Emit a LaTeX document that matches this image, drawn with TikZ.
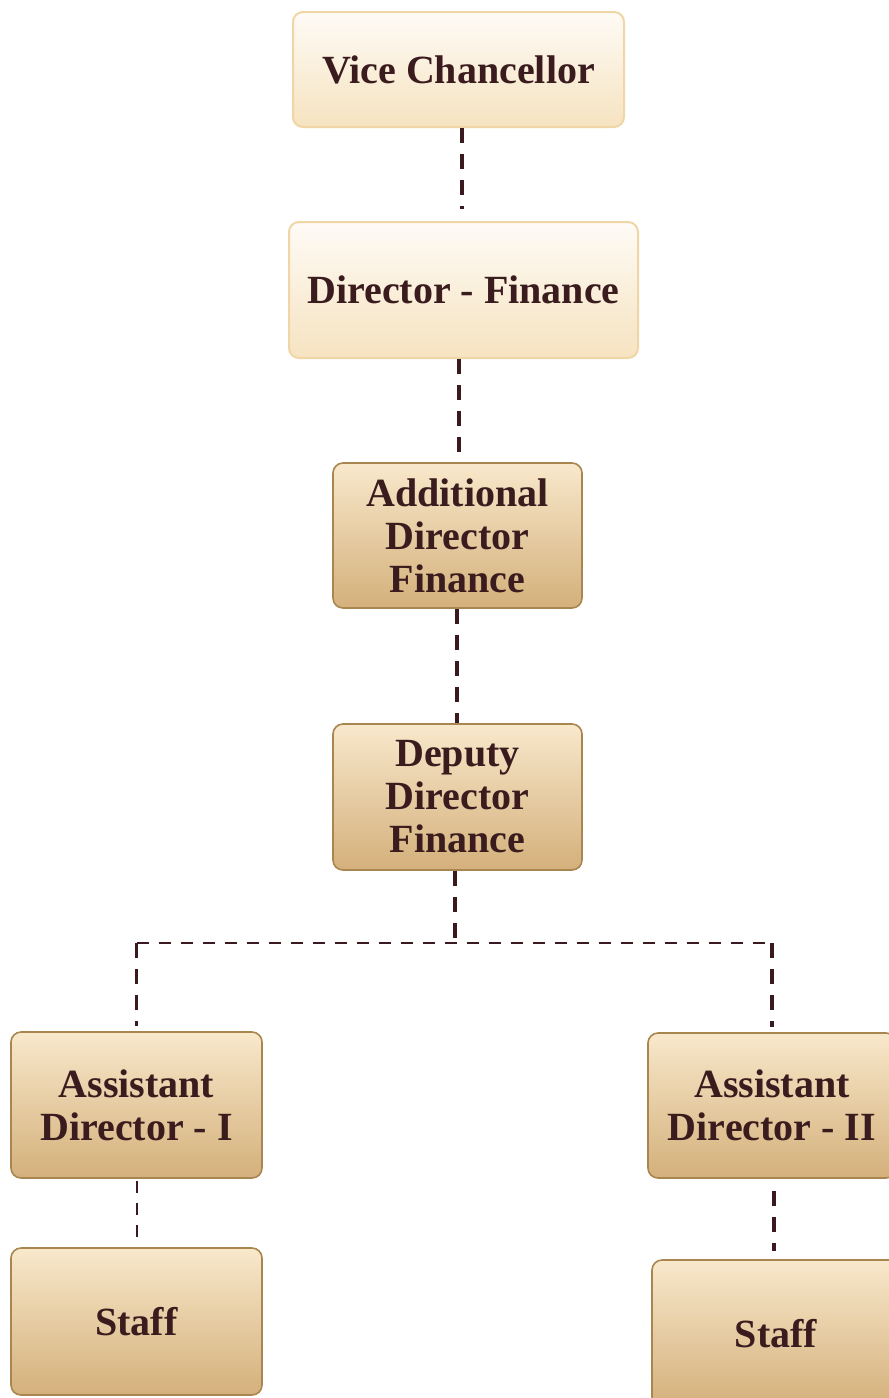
\documentclass[tikz,border=0pt]{standalone}
\usepackage{fontspec}
\setmainfont{Liberation Serif}
\usetikzlibrary{calc}
\definecolor{txt}{HTML}{3B1C1E}
\definecolor{lineC}{HTML}{3A1A1E}
\definecolor{lightTop}{HTML}{FEFBF6}
\definecolor{lightBot}{HTML}{F6E3C0}
\definecolor{lightEdge}{HTML}{F0D6A6}
\definecolor{darkTop}{HTML}{F8E8CB}
\definecolor{darkBot}{HTML}{D4B07B}
\definecolor{darkEdge}{HTML}{A9854F}
\tikzset{
  boxbase/.style={rectangle, rounded corners=10pt, align=center, text=txt,
    font=\bfseries\fontsize{40}{43}\selectfont, inner sep=0pt},
  lightbox/.style={boxbase, top color=lightTop, bottom color=lightBot,
    draw=lightEdge, line width=2pt},
  darkbox/.style={boxbase, top color=darkTop, bottom color=darkBot,
    draw=darkEdge, line width=1.6pt},
  heavylink/.style={draw=lineC, line width=3.6pt, dash pattern=on 15pt off 11pt},
  lightlink/.style={draw=lineC, line width=2pt, dash pattern=on 12pt off 10pt},
}
\begin{document}
\begin{tikzpicture}[x=1pt,y=-1pt]
\useasboundingbox (0,0) rectangle (889,1398);
\clip (0,0) rectangle (889,1398);
\fill[white] (0,0) rectangle (889,1398);

\node[lightbox, minimum width=331pt, minimum height=115pt] (vc) at (458.5,69.5) {Vice Chancellor};
\node[lightbox, minimum width=349pt, minimum height=136pt] (df) at (463.5,290) {Director - Finance};
\node[darkbox, minimum width=249pt, minimum height=145pt] (adf) at (457.5,535.5) {Additional\\Director\\Finance};
\node[darkbox, minimum width=249pt, minimum height=146pt] (ddf) at (457.5,797) {Deputy\\Director\\Finance};
\node[darkbox, minimum width=251pt, minimum height=146pt] (ad1) at (136.5,1105) {Assistant\\Director - I};
\node[darkbox, minimum width=248pt, minimum height=145pt] (ad2) at (772,1105.5) {Assistant\\Director - II};
\node[darkbox, minimum width=251pt, minimum height=147pt] (st1) at (136.5,1321.5) {Staff};
\node[darkbox, minimum width=248pt, minimum height=147pt] (st2) at (776,1333.5) {Staff};

\coordinate (j) at (455,943);

\draw[heavylink, shorten >=12pt] (vc.south -| 462,0) -- (df.north -| 462,0);
\draw[heavylink] (df.south -| 459,0) -- (adf.north -| 459,0);
\draw[heavylink] (adf.south -| 457,0) -- (ddf.north -| 457,0);
\draw[heavylink] (ddf.south -| j) -- (j);
\draw[lightlink] (ad1.north |- j) -- (ad2.north |- j);
\draw[heavylink, shorten >=5pt] (ad1.north |- j) -- (ad1.north);
\draw[heavylink, shorten >=5pt] (ad2.north |- j) -- (ad2.north);
\draw[lightlink, shorten <=2pt, shorten >=10pt] (ad1.south) -- (st1.north);
\draw[heavylink, shorten <=12pt, shorten >=8pt] (ad2.south -| 774,0) -- (st2.north -| 774,0);
\end{tikzpicture}
\end{document}
